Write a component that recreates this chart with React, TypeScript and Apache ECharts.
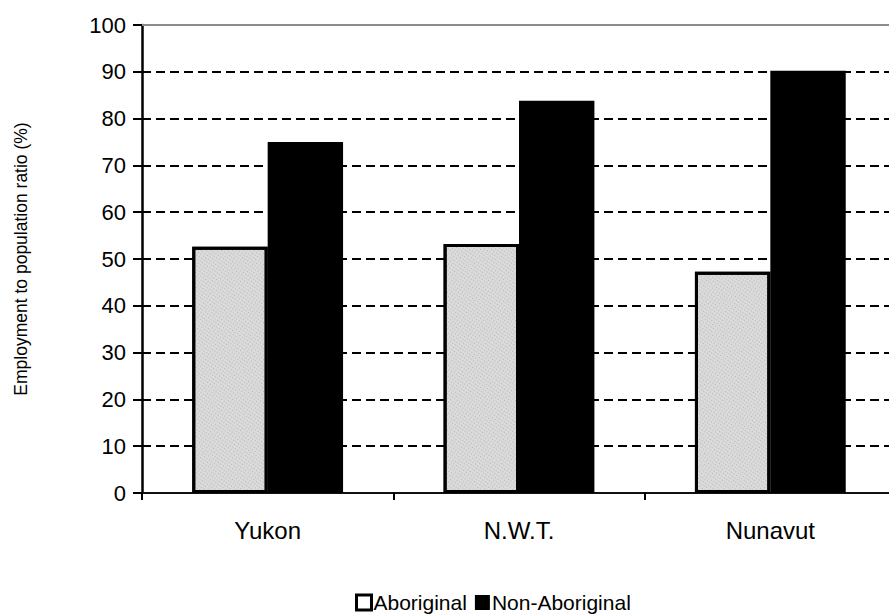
import React, { useEffect, useRef } from "react";
import * as echarts from "echarts";

const categories = ["Yukon", "N.W.T.", "Nunavut"];
const aboriginal = [52.6, 53.2, 47.3];
const nonAboriginal = [75.0, 83.8, 90.2];
const yTicks = [0, 10, 20, 30, 40, 50, 60, 70, 80, 90, 100];

export default function App() {
  const ref = useRef<HTMLDivElement>(null);
  useEffect(() => {
    if (!ref.current) return;
    const chart = echarts.init(ref.current, null, { renderer: "svg" });
    const font = "'Liberation Sans', Arial, sans-serif";
    const splitColors = yTicks.map((v) => (v === 100 ? "rgba(0,0,0,0)" : "#000"));
    chart.setOption({
      animation: false,
      backgroundColor: "#fff",
      textStyle: { fontFamily: font, color: "#000" },
      grid: { left: 142, right: 0, top: 25, bottom: 121, containLabel: false },
      legend: {
        left: 350,
        top: 587,
        itemWidth: 15,
        itemHeight: 15,
        itemGap: 8,
        icon: "rect",
        textStyle: { fontSize: 21, color: "#000", fontFamily: font, padding: [0, 0, 0, -3] },
        data: [
          { name: "Aboriginal", itemStyle: { color: "#fff", borderColor: "#000", borderWidth: 3, decal: "none" } },
          { name: "Non-Aboriginal", itemStyle: { color: "#000" } },
        ],
      },
      xAxis: {
        type: "category",
        data: categories,
        axisLine: { show: true, lineStyle: { color: "#111", width: 2 } },
        axisTick: { show: true, length: 7, lineStyle: { color: "#000", width: 2 } },
        axisLabel: { fontSize: 24, color: "#000", margin: 25, fontFamily: font },
      },
      yAxis: {
        type: "value",
        min: 0,
        max: 100,
        interval: 10,
        name: "Employment to population ratio (%)",
        nameLocation: "middle",
        nameGap: 112,
        nameRotate: 90,
        nameTextStyle: { fontSize: 17.5, color: "#000", fontFamily: font },
        axisLine: { show: true, lineStyle: { color: "#000", width: 2.5 } },
        axisTick: { show: true, length: 9, lineStyle: { color: "#000", width: 2 } },
        axisLabel: { fontSize: 22, color: "#000", margin: 16, fontFamily: font },
        splitLine: {
          show: true,
          lineStyle: { color: splitColors, type: [9, 5], width: 2 },
        },
      },
      series: [
        {
          name: "Aboriginal",
          type: "bar",
          data: aboriginal,
          barGap: "0%",
          barCategoryGap: "40%",
          itemStyle: {
            color: "#dadada",
            borderColor: "#000",
            borderWidth: 3,
            decal: {
              symbol: "rect",
              symbolSize: 0.7,
              color: "rgba(40,40,40,0.6)",
              dashArrayX: [1, 2],
              dashArrayY: [1, 2],
              rotation: 0.6,
            },
          },
          markLine: {
            silent: true,
            symbol: "none",
            label: { show: false },
            lineStyle: { color: "#8c8c8c", type: "solid", width: 2 },
            data: [{ yAxis: 100 }],
          },
        },
        {
          name: "Non-Aboriginal",
          type: "bar",
          data: nonAboriginal,
          barGap: "0%",
          barCategoryGap: "40%",
          itemStyle: { color: "#000" },
        },
      ],
    });
    return () => chart.dispose();
  }, []);
  return (
    <div style={{ position: "absolute", left: 0, top: 0, width: 889, height: 614, overflow: "hidden" }}>
      <div ref={ref} style={{ width: 896, height: 614 }} />
    </div>
  );
}
